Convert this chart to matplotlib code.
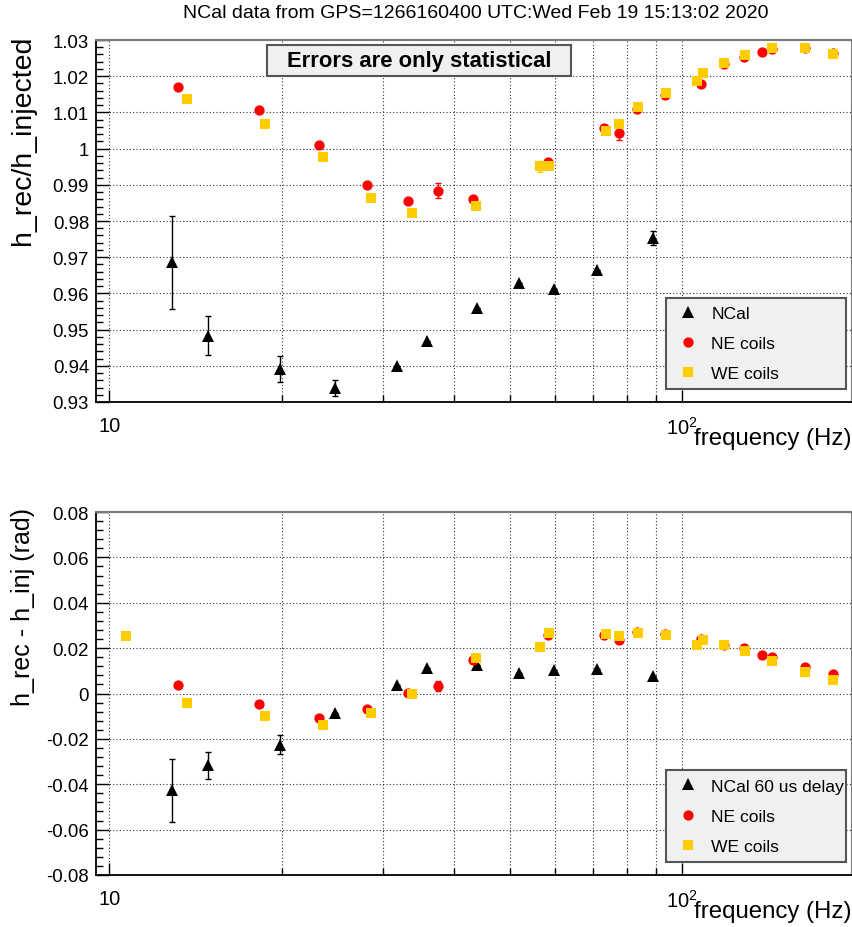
import matplotlib
matplotlib.use('Agg')
import numpy as np
import matplotlib.pyplot as plt
from matplotlib.ticker import FixedLocator, FuncFormatter, MultipleLocator
from matplotlib.patches import Rectangle

plt.rcParams['font.family'] = ['Liberation Sans', 'DejaVu Sans']

TITLE = 'NCal data from GPS=1266160400 UTC:Wed Feb 19 15:13:02 2020'

# NCal injection (magnitude ratio and phase with 60 us delay applied)
ncal_freq = [12.86, 14.85, 19.86, 24.8, 31.81, 35.81, 43.77, 51.88, 59.7, 70.9, 88.9]
ncal_mag = [0.9686, 0.9483, 0.9391, 0.9339, 0.9400, 0.9468, 0.9559, 0.9629, 0.9612, 0.9665, 0.9752]
ncal_mag_err = [0.0129, 0.0054, 0.0036, 0.0023, 0, 0, 0, 0, 0, 0, 0.0019]
ncal_phase = [-0.0427, -0.0317, -0.0226, -0.0085, 0.0039, 0.0113, 0.0124, 0.0092, 0.0104, 0.0109, 0.0077]
ncal_phase_err = [0.0138, 0.0059, 0.0041, 0, 0, 0, 0, 0, 0, 0, 0]

# NE coils
ne_freq = [13.16, 18.23, 23.2, 28.17, 33.25, 37.52, 43.19, 58.36, 73.1, 77.65,
           83.26, 93.27, 107.7, 118.3, 128.3, 137.7, 143.4, 163.7, 183.4]
ne_mag = [1.0169, 1.0107, 1.0011, 0.9899, 0.9856, 0.9884, 0.9861, 0.9962, 1.0057, 1.0043,
          1.0109, 1.0149, 1.0179, 1.0234, 1.0252, 1.0268, 1.0275, 1.0278, 1.0263]
ne_mag_err = [0, 0, 0, 0, 0, 0.0021, 0, 0, 0, 0.0018, 0, 0, 0, 0, 0, 0, 0, 0, 0]
ne_phase = [0.0039, -0.0048, -0.0107, -0.0070, 0.0004, 0.0033, 0.0149, 0.0259, 0.0256, 0.0234,
            0.0271, 0.0264, 0.0239, 0.0215, 0.0201, 0.0171, 0.0161, 0.0117, 0.0087]
ne_phase_err = [0, 0, 0, 0, 0, 0.0024, 0, 0, 0, 0.0010, 0, 0, 0, 0, 0, 0, 0, 0, 0]

# WE coils (first point is above the magnitude range)
we_freq = [10.69, 13.66, 18.67, 23.6, 28.61, 33.71, 43.6, 56.45, 58.6, 73.6,
           77.65, 83.7, 93.8, 106.2, 108.8, 118.4, 128.6, 143.4, 163.7, 183.4]
we_mag = [np.nan, 1.0138, 1.0068, 0.9978, 0.9864, 0.9821, 0.9841, 0.9951, 0.9951, 1.0050,
          1.0069, 1.0114, 1.0154, 1.0188, 1.0208, 1.0237, 1.0259, 1.0277, 1.0277, 1.0261]
we_mag_err = [0, 0, 0, 0, 0, 0, 0, 0.0015, 0, 0, 0, 0, 0, 0, 0, 0, 0, 0, 0, 0]
we_phase = [0.0255, -0.0041, -0.0101, -0.0141, -0.0088, 0.0000, 0.0157, 0.0205, 0.0267, 0.0262,
            0.0254, 0.0268, 0.0259, 0.0212, 0.0237, 0.0212, 0.0186, 0.0143, 0.0095, 0.0061]
we_phase_err = [0] * 20

RED = '#ff0000'
YEL = '#ffcc00'
W, H = 853, 928


def xfmt(v, pos):
    if abs(v - 10) < 1e-6:
        return '10'
    if abs(v - 100) < 1e-6:
        return '$\\mathregular{10^{2}}$'
    return ''


def yfmt(v, pos):
    return '%g' % round(v, 4)


def style_axis(ax, ylo, yhi, ymaj, ymin):
    ax.set_xscale('log')
    ax.set_xlim(9.48, 198)
    ax.set_ylim(ylo, yhi)
    ax.xaxis.set_major_locator(FixedLocator([10, 100]))
    ax.xaxis.set_minor_locator(FixedLocator([20, 30, 40, 50, 60, 70, 80, 90]))
    ax.xaxis.set_major_formatter(FuncFormatter(xfmt))
    ax.xaxis.set_minor_formatter(FuncFormatter(lambda v, p: ''))
    ax.yaxis.set_major_locator(MultipleLocator(ymaj))
    ax.yaxis.set_minor_locator(MultipleLocator(ymin))
    ax.yaxis.set_major_formatter(FuncFormatter(yfmt))
    ax.tick_params(which='both', direction='in', top=False, right=False, labelsize=13.4, colors='black')
    ax.tick_params(axis='x', which='major', labelsize=14.5)
    ax.tick_params(which='major', length=9, width=1)
    ax.tick_params(which='minor', length=5, width=1)
    ax.tick_params(axis='x', which='major', pad=10)
    ax.tick_params(axis='y', which='major', pad=5)
    ax.grid(which='major', axis='y', color='#333333', linestyle=(0, (1, 2)), linewidth=0.8)
    ax.grid(which='both', axis='x', color='#333333', linestyle=(0, (1, 2)), linewidth=0.8)
    ax.set_axisbelow(True)
    for s in ['bottom', 'left']:
        ax.spines[s].set_linewidth(1.3)
        ax.spines[s].set_color('black')
    for s in ['top', 'right']:
        ax.spines[s].set_linewidth(1.5)
        ax.spines[s].set_color('#7a7a7a')
    ax.text(1.0, -0.10, 'frequency (Hz)', transform=ax.transAxes, ha='right', va='center', fontsize=17.3)


def draw_series(ax, f, v, e, marker, color, ms, label):
    ax.errorbar(f, v, yerr=e, fmt='none', ecolor=color, elinewidth=1, capsize=2.5, capthick=1)
    line, = ax.plot(f, v, linestyle='none', marker=marker, color=color, markersize=ms,
                    markeredgewidth=0, label=label)
    return line


def add_legend(ax, y0, y1, handles):
    leg = ax.legend(handles=handles, loc='center', bbox_to_anchor=(0.7536, y0, 0.2381, y1 - y0),
                    mode='expand', fontsize=12.6, frameon=True, fancybox=False, framealpha=1,
                    borderpad=0.45, handlelength=1.6, handletextpad=0.55, labelspacing=0.85,
                    borderaxespad=0)
    fr = leg.get_frame()
    fr.set_facecolor('#f0f0f0')
    fr.set_edgecolor('#555555')
    fr.set_linewidth(1.5)


fig = plt.figure(figsize=(W / 100, H / 100), dpi=100)
left = 96 / W
width = 756 / W
ax1 = fig.add_axes([left, 1 - 403 / H, width, 362 / H])
ax2 = fig.add_axes([left, 1 - 876 / H, width, 363 / H])

# top panel: magnitude ratio
style_axis(ax1, 0.93, 1.03, 0.01, 0.002)
h1 = draw_series(ax1, ncal_freq, ncal_mag, ncal_mag_err, '^', 'black', 8.6, 'NCal')
h2 = draw_series(ax1, ne_freq, ne_mag, ne_mag_err, 'o', RED, 7.4, 'NE coils')
h3 = draw_series(ax1, we_freq, we_mag, we_mag_err, 's', YEL, 6.6, 'WE coils')
add_legend(ax1, 0.0359, 0.2865, [h1, h2, h3])
ax1.add_patch(Rectangle((0.2266, 0.9014), 0.4017, 0.0856, transform=ax1.transAxes,
                        facecolor='#f0f0f0', edgecolor='#555555', linewidth=1.5, zorder=5))
ax1.text(0.4274, 0.9442, 'Errors are only statistical', transform=ax1.transAxes,
         ha='center', va='center', fontsize=15.8, fontweight='bold', zorder=6)

# bottom panel: phase difference
style_axis(ax2, -0.08, 0.08, 0.02, 0.004)
g1 = draw_series(ax2, ncal_freq, ncal_phase, ncal_phase_err, '^', 'black', 8.6, 'NCal 60 us delay')
g2 = draw_series(ax2, ne_freq, ne_phase, ne_phase_err, 'o', RED, 7.4, 'NE coils')
g3 = draw_series(ax2, we_freq, we_phase, we_phase_err, 's', YEL, 6.6, 'WE coils')
add_legend(ax2, 0.0377, 0.2873, [g1, g2, g3])

fig.text(23 / W, 1 - 36 / H, 'h_rec/h_injected', rotation=90, ha='center', va='top', fontsize=20.5)
fig.text(23 / W, 1 - 508 / H, 'h_rec - h_inj (rad)', rotation=90, ha='center', va='top', fontsize=18)
fig.text(476 / W, 1 - 13 / H, TITLE, ha='center', va='center', fontsize=14)

fig.savefig('out.png', dpi=100)
